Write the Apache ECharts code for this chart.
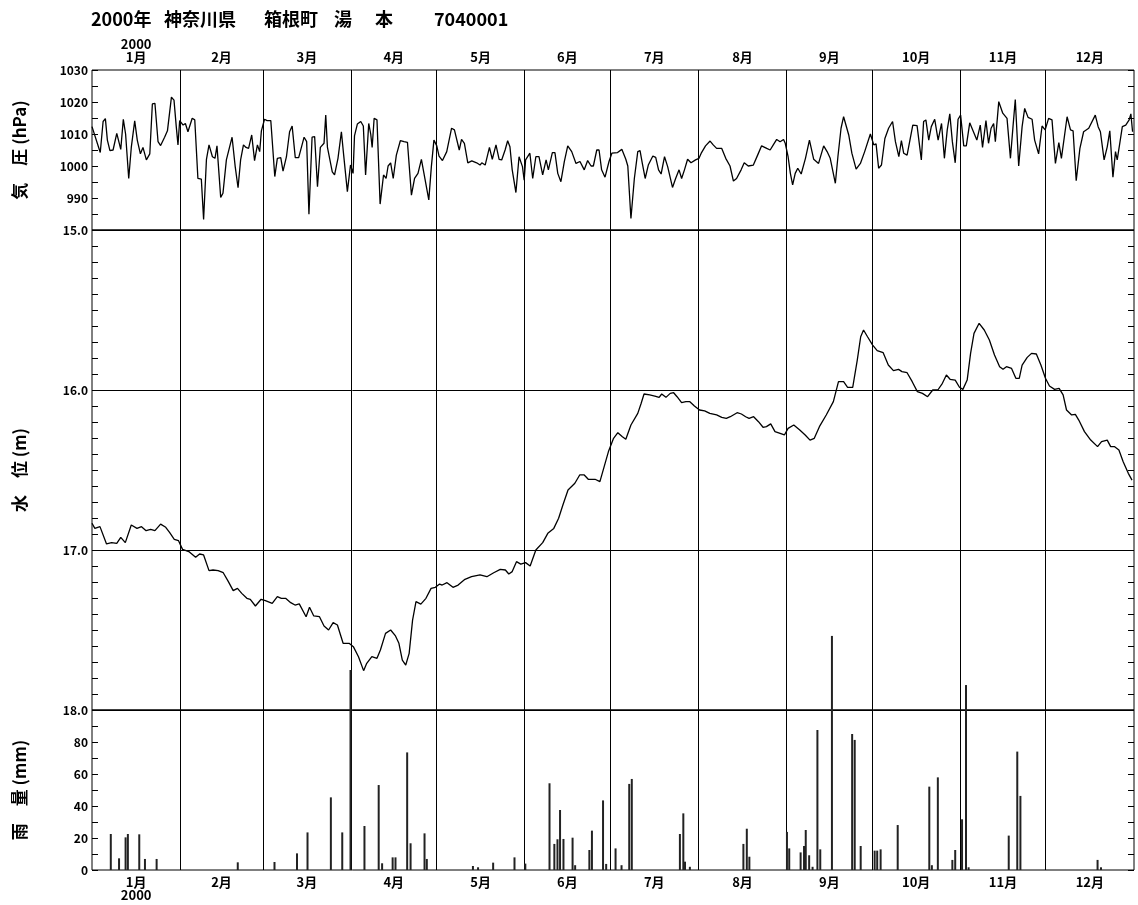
<!DOCTYPE html>
<html><head><meta charset="utf-8">
<script src="https://cdn.jsdelivr.net/npm/echarts@6/dist/echarts.min.js"></script>
<style>html,body{margin:0;padding:0;background:#fff}#c{width:1138px;height:905px}</style>
</head><body><div id="c"></div>
<script>
const titleParts = ['2000年', '神奈川県', '箱根町', '湯', '本', '7040001'];
const yearLabel = '2000';
const monthLabels = ['1月','2月','3月','4月','5月','6月','7月','8月','9月','10月','11月','12月'];
const monthDays = [31,29,31,30,31,30,31,31,30,31,30,31];
const axisNames = ['気　圧 (hPa)', '水　位 (m)', '雨　量 (mm)'];

// [day of year (0 = Jan 1), hPa]
const pressure = [[0,1012.3],[0.7,1012.8],[2.9,1004.2],[3.9,1013.9],[4.7,1014.8],[5.4,1008.1],[6.3,1004.8],[7.4,1005],[8.7,1010.2],[9.1,1010.4],[10.1,1005.2],[11,1014.6],[11.8,1010],[12.9,996.1],[13.8,1005.8],[15,1014.1],[15.9,1008.1],[17,1003.8],[17.9,1005.8],[19.1,1001.9],[20.3,1003.8],[21.2,1019.4],[22.1,1019.6],[23.2,1007.6],[24.1,1006.4],[25.5,1009],[26.5,1011],[27.9,1021.5],[28.8,1020.6],[29.6,1012.3],[30.2,1006.6],[30.8,1014.2],[32,1012.8],[32.8,1013.3],[33.7,1010.7],[35.2,1014.9],[36.1,1014.4],[37.2,996.1],[38.4,995.9],[39.2,983.3],[40.2,1002.1],[41.1,1006.6],[42.3,1002.9],[43.2,1002.4],[43.9,1006.3],[45.2,990.2],[46,991.5],[47.2,1001.9],[49.2,1009],[50.3,999.8],[51.3,993.2],[52.2,1001.9],[53.2,1006.6],[54.1,1005.8],[55,1005.5],[56.1,1009.7],[57.1,1001.7],[58.1,1006.6],[58.9,1004.5],[59.5,1011],[60.6,1014.6],[61.5,1014.2],[62.8,1014.2],[64.2,996.7],[65.1,1002.4],[66.3,1002.6],[67.1,998.4],[68.3,1002.9],[69.4,1010.7],[70.3,1012.5],[71.4,1002.6],[72.6,1002.6],[74.5,1009],[75.4,1007.6],[76.2,984.9],[77.3,1009],[78.2,1009.2],[79.2,993.5],[80.2,1005.8],[80.8,1005.5],[81.5,1007.1],[82.1,1015.9],[82.7,1005.8],[84.4,998.2],[85.2,997.2],[86.4,1002.4],[87.6,1010.7],[88.4,1003.4],[89.7,992],[90.8,1000.3],[91.7,997.7],[92.2,1009.4],[93.2,1013.1],[94.4,1013.9],[95.3,1012.5],[96.1,997.2],[97.2,1013.3],[97.9,1010],[98.4,1005.8],[99.1,1014.9],[100.1,1014.4],[101.2,988.1],[102.4,997.2],[103.3,996.1],[104,1000],[104.9,1001],[105.8,996.1],[106.9,1003.4],[108.3,1007.9],[109.6,1007.6],[110.8,1007.4],[112.2,990.9],[113.3,996.1],[114.5,997.7],[115.7,1002.1],[116.3,1002.1],[118.3,989.4],[119.2,999.8],[120.1,1008.1],[121.1,1006.3],[121.9,1003.1],[123.1,1001.7],[124.6,1004.5],[126.3,1011.8],[127.3,1011.3],[129,1005],[129.8,1008.3],[130.8,1007.1],[132,1001],[133.4,1001.6],[135.1,1001],[136.3,1000.3],[136.9,1001],[138.1,1000.3],[139.6,1005.8],[140.6,1002.1],[141.9,1006.6],[143,1002.1],[143.9,1001.9],[145.1,1005],[146,1007.9],[146.8,1006],[147.6,998.8],[148.9,991.7],[150,1002.9],[151.2,999.8],[151.8,995.6],[152.3,1001.9],[153.8,1004],[154.8,996.1],[155.9,1002.9],[157,1002.9],[158.3,997.2],[159.5,1001.9],[160.3,998.8],[161.7,1004.2],[162.6,1004.2],[163.6,997.7],[164.7,995.1],[165.9,1001.4],[167.1,1006.3],[168.5,1004.5],[170,1000.8],[171.4,1001.4],[172.9,998.8],[174.1,1001.7],[175.3,1000],[176.1,1000],[177.3,1005],[178.1,1005],[179,998.8],[180.2,996.5],[181.6,1001.4],[182.6,1004],[184.6,1004.2],[186.1,1005.2],[187.5,1002.1],[188.2,1000],[189.3,983.6],[190.5,996.1],[191.7,1004.5],[192.5,1004.8],[193.3,1000.8],[194.3,996.1],[195.4,1000.3],[197,1003.1],[198,1002.7],[199,998.8],[199.9,997.5],[201.1,1002.9],[202.2,999.8],[203.9,993.3],[205,996.1],[206.2,998.8],[207.1,996.1],[208.1,998.8],[209.2,1002.1],[210.4,1001],[212,1001.9],[213.2,1002.4],[214.1,1004.2],[215.5,1006.3],[217.1,1007.8],[218.2,1006.6],[219.4,1005.5],[221.2,1005.5],[222.6,1002.4],[224.1,1000],[225.3,995.3],[226.4,996.1],[228,998.8],[229.1,1001],[230.5,1000],[232.3,1000.3],[233.8,1003.4],[235.2,1006.3],[237,1005.5],[238.2,1005],[239.3,1006.6],[240.5,1008.3],[241.7,1007.6],[242.9,1008.3],[243.5,1007.1],[244.5,1002.9],[245.3,997.7],[246.1,994.1],[247,997.7],[247.9,999.3],[249.1,997.5],[250.6,1002.4],[252,1008.1],[253.5,1002.1],[255.2,1000.8],[257,1006.3],[258.2,1004.5],[259.3,1002.4],[261.1,994.6],[262,1002.9],[263.1,1011.8],[264,1015.4],[265.8,1009.7],[266.9,1004],[268.4,999],[269.9,1000.8],[271.4,1004.5],[273.4,1010],[274.6,1006.6],[275.4,1006.9],[276.3,999.3],[277.3,1000.3],[278.5,1008.6],[279.8,1011.8],[281.2,1013.9],[282.2,1007.6],[283.4,1002.9],[284.3,1007.9],[285.1,1004],[286.3,1003.4],[288.3,1012.8],[289.8,1012.6],[291.3,1001.9],[292.1,1013.9],[292.9,1014.4],[293.9,1008.1],[294.8,1012.3],[296,1014.6],[297.2,1008.1],[298.4,1013.3],[299.4,1002.4],[300.4,1011.3],[301.3,1016.3],[302.2,1007.6],[303.2,1001],[304.2,1014.6],[305.1,1015.9],[306.2,1006.3],[307.1,1006.3],[308.3,1013.5],[309.6,1010.7],[310.8,1008.1],[312,1012.8],[312.8,1005.8],[314,1014.2],[314.9,1007.1],[315.8,1011.8],[316.7,1013.3],[317.3,1007.6],[318.5,1020.1],[319.9,1016.5],[321.4,1014.9],[322.6,1002.4],[323.5,1012.3],[324.3,1020.8],[325.5,1000],[326.7,1012.3],[327.6,1018],[328.8,1015.2],[330.2,1014.6],[331.1,1008.1],[332.5,1003.8],[333.7,1012.5],[334.8,1011.3],[336,1014.9],[337.2,1014.4],[338.4,1000.8],[339.6,1007.3],[340.5,1002.4],[342.5,1015.4],[343.7,1011.3],[344.6,1011],[345.7,995.4],[347,1005.5],[348.3,1010.7],[350.1,1011.8],[352.4,1015.9],[353.4,1012.3],[354.2,1010.7],[355.5,1001.9],[356.6,1006],[357.5,1011],[358.6,996.5],[359.5,1004.5],[360.1,1001.9],[361,1007.1],[361.9,1012.3],[363.1,1012.8],[364.3,1014.4],[364.9,1016.3],[365.5,1010.7]];

// [day of year, water level depth m]
const waterLevel = [[0,16.833],[1,16.865],[2.8,16.854],[5.1,16.962],[6.9,16.954],[8.7,16.958],[10.1,16.921],[11.7,16.954],[13.8,16.844],[15.8,16.865],[17.4,16.854],[19,16.879],[20.6,16.871],[22.1,16.879],[24.1,16.838],[25.9,16.858],[27.3,16.892],[28.9,16.933],[30.4,16.942],[31.8,16.996],[34,17.01],[36.4,17.046],[37.8,17.025],[39.2,17.031],[41.1,17.129],[42.5,17.125],[44.3,17.129],[46.1,17.142],[47.9,17.198],[49.6,17.254],[51.1,17.24],[52.6,17.271],[54.4,17.302],[55.6,17.308],[57.4,17.35],[59.4,17.308],[60.9,17.317],[63.3,17.333],[65.1,17.292],[66.5,17.302],[68,17.302],[69.8,17.329],[71.3,17.344],[72.8,17.337],[75.2,17.417],[76.4,17.358],[77.9,17.412],[79.9,17.417],[81.5,17.475],[83.1,17.5],[84.7,17.454],[86.2,17.469],[88.2,17.583],[90.3,17.583],[91.8,17.604],[93.6,17.667],[95.4,17.754],[96.5,17.708],[98.3,17.667],[100.1,17.677],[101.3,17.625],[103.1,17.521],[104.9,17.5],[106.6,17.537],[107.8,17.583],[109,17.688],[110.2,17.719],[111.4,17.646],[112.6,17.438],[113.8,17.323],[115.5,17.338],[117.3,17.302],[119.1,17.24],[120.6,17.233],[122.1,17.213],[123,17.219],[124.7,17.204],[126.8,17.233],[128.6,17.219],[131,17.183],[133.3,17.167],[136.3,17.156],[138.7,17.167],[141.1,17.142],[143.4,17.121],[145.2,17.125],[146.4,17.15],[147.6,17.135],[149.1,17.073],[150.6,17.088],[152.3,17.079],[153.9,17.1],[155.9,17.0],[158.3,16.954],[160.1,16.896],[162.2,16.865],[163.9,16.802],[165.4,16.719],[167.2,16.625],[169.6,16.583],[171.3,16.531],[172.9,16.531],[174.3,16.558],[176.7,16.558],[178.4,16.573],[179.9,16.479],[181.4,16.385],[183.2,16.302],[184.7,16.267],[186.3,16.292],[187.5,16.308],[189.3,16.219],[191.7,16.146],[192.9,16.083],[193.9,16.025],[195.9,16.031],[197.7,16.038],[199.2,16.046],[200.1,16.025],[201.6,16.046],[203.1,16.021],[204.3,16.017],[205.5,16.042],[207.1,16.079],[208.6,16.073],[210,16.073],[211.6,16.1],[213.4,16.125],[215.2,16.131],[217,16.146],[219.4,16.156],[221.2,16.171],[222.8,16.177],[224.2,16.167],[226.6,16.142],[228.1,16.15],[229.6,16.167],[230.8,16.177],[232.4,16.167],[234.1,16.198],[235.7,16.233],[236.9,16.229],[238.4,16.212],[239.9,16.26],[241.7,16.271],[243.2,16.281],[244.5,16.24],[246.5,16.219],[248.6,16.25],[250.5,16.281],[252.2,16.313],[253.7,16.302],[255.5,16.229],[257.9,16.156],[260.4,16.073],[262.2,15.948],[264,15.948],[265.4,15.983],[267.2,15.983],[268.8,15.813],[270,15.667],[271,15.625],[272.4,15.667],[274.2,15.719],[275.8,15.754],[277.9,15.767],[279.7,15.844],[281.5,15.879],[283.3,15.871],[284.5,15.885],[286.3,15.892],[288.1,15.948],[289.9,16.01],[291.7,16.021],[293.5,16.042],[295.3,16],[297.1,16],[298.7,15.958],[300.1,15.906],[301.4,15.933],[303.2,15.938],[304.7,15.983],[305.9,15.996],[307.4,15.938],[308.6,15.771],[309.8,15.646],[311.6,15.583],[313.4,15.625],[315.2,15.688],[317,15.781],[318.8,15.854],[320,15.871],[321.2,15.854],[323,15.865],[324.5,15.927],[325.7,15.927],[326.7,15.844],[328.5,15.796],[330,15.771],[331.7,15.775],[333.3,15.844],[334.9,15.927],[336.3,15.975],[338.1,15.996],[339.7,15.99],[341.1,16.031],[342.3,16.125],[344.1,16.156],[345.4,16.152],[346.6,16.188],[348.6,16.26],[350.8,16.313],[353.2,16.354],[354.6,16.323],[356.6,16.313],[357.8,16.354],[359.2,16.354],[360.7,16.375],[362.2,16.448],[364,16.521],[365.3,16.563]];

// [day of year, mm]
const rainfall = [[6.6,22.5],[9.5,7.3],[11.8,20.4],[12.6,22.5],[16.6,22.3],[18.6,6.9],[22.7,6.9],[51.2,4.8],[64.1,5],[72,10.4],[75.7,23.5],[83.9,45.4],[87.9,23.5],[90.8,125],[95.7,27.5],[100.7,53.1],[101.9,4.2],[105.6,7.9],[106.6,7.9],[110.7,73.5],[111.9,16.7],[116.8,22.9],[117.6,6.9],[133.8,2.5],[135.6,1.7],[140.9,4.6],[148.4,7.9],[152.2,4],[160.7,54.2],[162.4,16.3],[163.5,19.2],[164.4,37.5],[165.6,19.4],[168.8,20.2],[169.7,3],[174.7,12.5],[175.6,24.6],[179.5,43.5],[180.6,3.8],[183.9,13.5],[186,3],[188.7,53.8],[189.6,56.9],[206.5,22.5],[207.7,35.4],[208.3,5.2],[210,2],[228.8,16.3],[230,25.8],[230.9,8.3],[244.1,23.8],[244.9,13.5],[248.9,11],[250.1,15],[250.7,25],[251.9,9.2],[253.1,2],[254.8,87.5],[255.8,12.9],[259.9,146.3],[267,85],[267.9,81.3],[270,15],[274.9,12.1],[275.8,12.1],[277,12.9],[283,28.1],[294.1,52.1],[295,3],[297.1,57.9],[302.2,6.3],[303.2,12.5],[305.6,31.7],[307,115.6],[307.9,1.7],[322,21.5],[325,74],[326.1,46.3],[353.2,6.3],[354.4,1.7]];

const FONT = '"Noto Sans CJK JP", "Noto Sans", sans-serif';
const starts = [];
let acc = 0;
monthDays.forEach(d => { starts.push(acc); acc += d; });
const yearDays = acc;
const boundaries = starts.slice(1);
const mids = starts.map((s, i) => s + monthDays[i] / 2);

function monthFmt(top) {
  return v => {
    const i = mids.findIndex(m => Math.abs(m - v) < 0.01);
    if (i < 0) return '';
    if (i === 0) return top ? yearLabel + '\n' + monthLabels[0] : monthLabels[0] + '\n' + yearLabel;
    return monthLabels[i];
  };
}
function xAxisFor(gi, pos, showLabel) {
  return {
    type: 'value', gridIndex: gi, min: 0, max: yearDays, position: pos,
    axisLine: { show: false },
    axisTick: { show: false, customValues: boundaries },
    splitLine: { show: true, lineStyle: { color: '#000', width: 1, type: 'solid' } },
    axisLabel: {
      show: showLabel, customValues: mids, formatter: monthFmt(pos === 'top'),
      color: '#000', fontFamily: FONT, fontSize: 13, fontWeight: 'bold', margin: 6, lineHeight: 13
    }
  };
}
const tickCommon = { show: true, inside: true, length: 6, lineStyle: { color: '#000', width: 1 } };
const labelCommon = { color: '#000', fontFamily: FONT, fontSize: 12, fontWeight: 'bold', margin: 4 };
const nameStyle = { color: '#000', fontFamily: FONT, fontSize: 17, fontWeight: 'bold' };

function yAxisFor(gi, pos, cfg) {
  const left = pos === 'left';
  return Object.assign({
    type: 'value', gridIndex: gi, position: pos,
    axisLine: { show: false },
    axisTick: tickCommon,
    minorTick: { show: true, splitNumber: cfg.minorSplit, length: 6, lineStyle: { color: '#000', width: 1 } },
    splitLine: { show: false },
    axisLabel: Object.assign({ show: left, formatter: cfg.fmt }, labelCommon),
    name: left ? cfg.name : '', nameLocation: 'middle', nameRotate: 90, nameGap: 64,
    nameTextStyle: nameStyle
  }, cfg.extra);
}

const pressureCfg = { minorSplit: 2, name: axisNames[0], fmt: v => (v === 980 ? '' : String(v)), extra: { min: 980, max: 1030, interval: 10 } };
const waterCfg = { minorSplit: 10, name: axisNames[1], fmt: v => v.toFixed(1), extra: { min: 15, max: 18, interval: 1, inverse: true } };
const rainCfg = { minorSplit: 2, name: axisNames[2], fmt: v => (v === 100 ? '' : String(v)), extra: { min: 0, max: 100, interval: 20 } };

const yAxes = [
  yAxisFor(0, 'left', pressureCfg),
  yAxisFor(1, 'left', waterCfg),
  yAxisFor(2, 'left', rainCfg),
  yAxisFor(0, 'right', pressureCfg),
  yAxisFor(1, 'right', waterCfg),
  yAxisFor(2, 'right', rainCfg)
];
yAxes[1].splitLine = { show: true, lineStyle: { color: '#000', width: 1 } };

const titleX = [91, 164, 264, 334, 375, 434];
const chart = echarts.init(document.getElementById('c'), null, { renderer: 'canvas' });
chart.setOption({
  animation: false,
  backgroundColor: '#fff',
  graphic: titleParts.map((t, i) => ({
    type: 'text', left: titleX[i], top: 10,
    style: { text: t, fill: '#000', font: 'bold 18px ' + FONT }
  })),
  grid: [
    { left: 92, right: 4, top: 70, height: 160, show: true, borderColor: '#000', borderWidth: 1, backgroundColor: 'transparent', outerBoundsMode: 'none' },
    { left: 92, right: 4, top: 230, height: 480, show: true, borderColor: '#000', borderWidth: 1, backgroundColor: 'transparent', outerBoundsMode: 'none' },
    { left: 92, right: 4, top: 710, height: 160, show: true, borderColor: '#000', borderWidth: 1, backgroundColor: 'transparent', outerBoundsMode: 'none' }
  ],
  xAxis: [xAxisFor(0, 'top', true), xAxisFor(1, 'bottom', false), xAxisFor(2, 'bottom', true)],
  yAxis: yAxes,
  series: [
    { type: 'line', xAxisIndex: 0, yAxisIndex: 0, data: pressure, showSymbol: false, symbol: 'none',
      lineStyle: { color: '#000', width: 1.3 }, z: 5 },
    { type: 'line', xAxisIndex: 1, yAxisIndex: 1, data: waterLevel, showSymbol: false, symbol: 'none',
      lineStyle: { color: '#000', width: 1.3 }, z: 5 },
    { type: 'bar', xAxisIndex: 2, yAxisIndex: 2, data: rainfall, barWidth: 2, clip: false,
      itemStyle: { color: '#222' }, z: 6 }
  ]
});
</script></body></html>
